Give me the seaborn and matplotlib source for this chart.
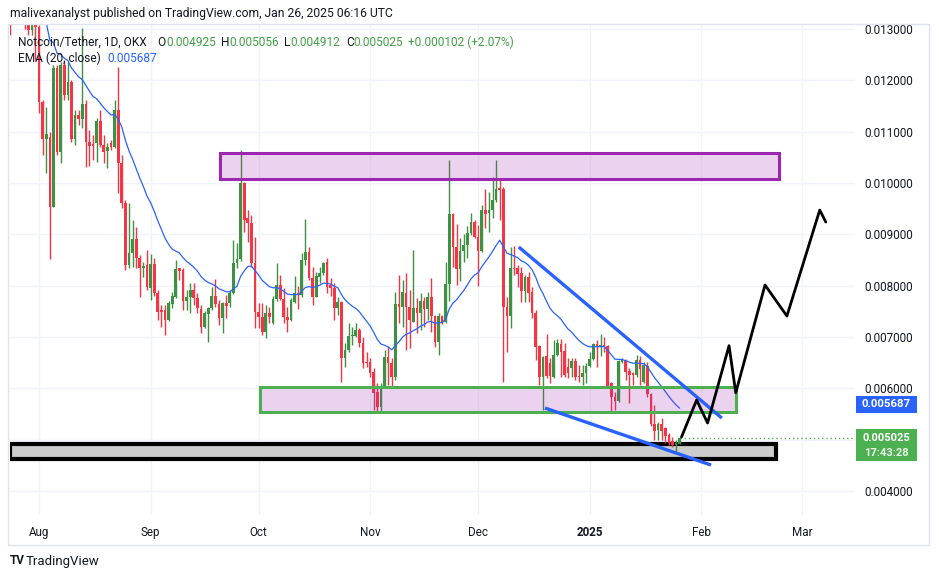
import numpy as np
import pandas as pd
import matplotlib
matplotlib.use("Agg")
import matplotlib.pyplot as plt
import matplotlib.dates as mdates
from matplotlib.patches import Rectangle
import seaborn as sns

# ---------------- data (NOT/USDT daily, OKX) ----------------
END_DATE = "2025-01-26"

opens = [
    # Jul 14 - Jul 31
    .0140, .0145, .0150, .0146, .0143, .0147, .0150, .0145, .0141, .0143, .0139, .0136, .0138, .0135, .0137, .0133, .01298, .01314,
    # Aug
    .01304, .01158, .01086, .01090, .00953, .01224, .01060, .01230, .01171, .01197, .01086, .01132, .01125, .01154, .01080, .01076,
    .01078, .01121, .01074, .01062, .01078, .01070, .01142, .01039, .00961, .00840, .00864, .00891, .00854, .00835, .00840,
    # Sep
    .00795, .00842, .00786, .00753, .00753, .00733, .00764, .00778, .00834, .00830, .00770, .00778, .00792, .00776, .00755,
    .00720, .00745, .00757, .00780, .00764, .00737, .00766, .00766, .00786, .00844, .00852, .01000, .00932, .00922, .00844,
    # Oct
    .00749, .00739, .00710, .00747, .00727, .00774, .00801, .00774, .00739, .00733, .00768, .00786, .00782, .00850, .00866, .00815,
    .00778, .00817, .00825, .00846, .00801, .00795, .00757, .00768, .00659, .00675, .00702, .00702, .00714, .00688, .00651,
    # Nov
    .00651, .00632, .00593, .00564, .00603, .00661, .00649, .00622, .00764, .00758, .00786, .00758, .00729, .00757, .00747,
    .00770, .00755, .00778, .00741, .00690, .00741, .00729, .00803, .00940, .00875, .00832, .00867, .00879, .00902, .00924,
    # Dec
    .00895, .00867, .00947, .00942, .00947, .00967, .00990, .00988, .00758, .00741, .00834, .00834, .00825, .00790, .00817, .00788,
    .00747, .00682, .00622, .00663, .00649, .00622, .00665, .00686, .00673, .00642, .00639, .00653, .00624, .00622, .00630,
    # Jan
    .00643, .00657, .00686, .00680, .00684, .00682, .00610, .00583, .00575, .00652, .00655, .00634, .00630, .00626, .00655, .00612,
    .00643, .00589, .00530, .00519, .00530, .00523, .00509, .00497, .00490, .004925,
]
highs = [
    .0146, .0152, .0153, .0149, .0148, .0152, .0151, .0147, .0145, .0144, .0141, .0140, .0140, .0139, .0139, .0136, .0134, .0134,
    .01308, .01162, .01148, .01100, .01230, .01230, .01236, .01240, .01236, .01201, .01142, .01142, .01302, .01162, .01103, .01094,
    .01127, .01142, .01094, .01078, .01084, .01162, .01226, .01055, .00967, .00961, .00928, .00914, .00860, .00846, .00870,
    .00862, .00854, .00792, .00762, .00762, .00770, .00788, .00850, .00834, .00834, .00792, .00805, .00805, .00786, .00762,
    .00751, .00759, .00797, .00813, .00772, .00768, .00782, .00792, .00889, .00883, .01064, .01002, .00947, .00938, .00895,
    .00766, .00766, .00762, .00759, .00780, .00844, .00821, .00795, .00759, .00776, .00819, .00799, .00864, .00930, .00875, .00837,
    .00827, .00837, .00846, .00854, .00815, .00805, .00778, .00770, .00688, .00727, .00720, .00727, .00718, .00700, .00671,
    .00659, .00640, .00610, .00610, .00675, .00682, .00659, .00788, .00821, .00811, .00825, .00792, .00870, .00776, .00786,
    .00778, .00788, .00815, .00743, .00747, .00743, .00846, .01045, .00942, .00920, .00893, .00901, .00916, .00942, .00928,
    .00918, .00957, .00988, .00982, .01012, .01045, .01010, .00992, .00778, .00875, .00877, .00840, .00837, .00821, .00827, .00797,
    .00753, .00684, .00663, .00706, .00659, .00694, .00696, .00696, .00688, .00659, .00659, .00659, .00645, .00645, .00649,
    .00671, .00688, .00694, .00706, .00700, .00684, .00612, .00593, .00655, .00659, .00657, .00640, .00632, .00665, .00663, .00651,
    .00651, .00591, .00567, .00534, .00542, .00525, .00513, .00505, .00499, .005056,
]
lows = [
    .0138, .0143, .0144, .0141, .0140, .0145, .0144, .0140, .0138, .0137, .01288, .0133, .0133, .0132, .0130, .01288, .01288, .01240,
    .01136, .01055, .01019, .00852, .00953, .01055, .01039, .01162, .01162, .01080, .01074, .01113, .01107, .01031, .01033, .01045,
    .01041, .01070, .01039, .01029, .01064, .01068, .00980, .00952, .00831, .00835, .00837, .00835, .00778, .00817, .00792,
    .00772, .00780, .00733, .00720, .00704, .00731, .00757, .00776, .00811, .00753, .00753, .00747, .00762, .00747, .00708,
    .00718, .00690, .00753, .00759, .00723, .00708, .00737, .00759, .00784, .00835, .00848, .00905, .00885, .00837, .00718,
    .00718, .00704, .00698, .00727, .00725, .00770, .00772, .00727, .00710, .00731, .00766, .00755, .00778, .00840, .00811, .00762,
    .00778, .00805, .00821, .00786, .00780, .00733, .00743, .00612, .00642, .00671, .00684, .00700, .00680, .00639, .00642,
    .00622, .00558, .00554, .00552, .00603, .00606, .00603, .00616, .00727, .00720, .00675, .00678, .00729, .00708, .00714,
    .00720, .00733, .00710, .00680, .00665, .00725, .00727, .00770, .00837, .00801, .00809, .00846, .00854, .00899, .00893,
    .00799, .00866, .00912, .00905, .00932, .00963, .00928, .00612, .00671, .00718, .00821, .00797, .00768, .00768, .00768, .00737,
    .00655, .00606, .00558, .00620, .00610, .00620, .00663, .00622, .00622, .00620, .00622, .00616, .00612, .00606, .00610,
    .00642, .00655, .00642, .00663, .00670, .00603, .00556, .00558, .00573, .00649, .00616, .00571, .00606, .00622, .00606, .00610,
    .00583, .00527, .00499, .00499, .00499, .00493, .00490, .00485, .00474, .004912,
]
closes = [
    .0145, .0150, .0146, .0143, .0147, .0150, .0145, .0141, .0143, .0139, .0136, .0138, .0135, .0137, .0133, .01298, .01314, .01304,
    .01158, .01086, .01095, .00953, .01224, .01060, .01230, .01171, .01197, .01086, .01132, .01125, .01154, .01080, .01072, .01072,
    .01121, .01074, .01060, .01070, .01070, .01142, .01039, .00961, .00840, .00864, .00891, .00854, .00835, .00838, .00797,
    .00842, .00786, .00749, .00749, .00733, .00766, .00780, .00832, .00828, .00770, .00778, .00792, .00776, .00757, .00720,
    .00747, .00757, .00780, .00764, .00737, .00766, .00760, .00786, .00844, .00852, .01000, .00928, .00922, .00844, .00749,
    .00739, .00710, .00747, .00739, .00774, .00801, .00774, .00739, .00733, .00772, .00786, .00782, .00850, .00866, .00815, .00778,
    .00819, .00825, .00844, .00797, .00795, .00757, .00768, .00659, .00675, .00702, .00704, .00714, .00688, .00649, .00649,
    .00630, .00591, .00564, .00603, .00661, .00649, .00622, .00764, .00758, .00788, .00758, .00733, .00757, .00747, .00770,
    .00755, .00778, .00741, .00690, .00741, .00729, .00803, .00940, .00875, .00832, .00867, .00879, .00902, .00924, .00895,
    .00867, .00947, .00940, .00947, .00967, .00988, .00986, .00758, .00741, .00834, .00832, .00823, .00790, .00817, .00786, .00747,
    .00681, .00622, .00661, .00624, .00624, .00665, .00688, .00671, .00626, .00630, .00653, .00622, .00622, .00630, .00643,
    .00657, .00686, .00680, .00684, .00682, .00604, .00583, .00575, .00653, .00655, .00632, .00626, .00626, .00655, .00638, .00645,
    .00589, .00530, .00517, .00530, .00517, .00507, .00494, .00490, .00493, .005025,
]

ema_span = 20
ema_last = 0.005687
change_abs = 0.000102
change_pct = 2.07
countdown = "17:43:28"

price_ticks = [0.004, 0.005, 0.006, 0.007, 0.008, 0.009, 0.010, 0.011, 0.012, 0.013]
hidden_tick_labels = [0.005]   # covered by the last-price label in the reference
month_starts = ["2024-08-01", "2024-09-01", "2024-10-01", "2024-11-01", "2024-12-01", "2025-01-01", "2025-02-01", "2025-03-01"]
month_labels = ["Aug", "Sep", "Oct", "Nov", "Dec", "2025", "Feb", "Mar"]

# analyst drawings
resist_dates = ["2024-09-20 07:00", "2025-02-22 14:00"]
resist_prices = [0.010078, 0.010585]
support_dates = ["2024-10-01 10:00", "2025-02-10 14:00"]
support_prices = [0.005539, 0.006026]
base_dates = ["2024-07-23 20:00", "2025-02-21 17:00"]
base_prices = [0.004624, 0.004916]
upper_tl_dates = ["2024-12-12 07:00", "2025-02-06 17:00"]
upper_tl_prices = [0.008753, 0.005422]
lower_tl_dates = ["2024-12-19 14:00", "2025-02-03 17:00"]
lower_tl_prices = [0.005617, 0.004507]
path_dates = ["2025-01-26 12:00", "2025-01-30 17:00", "2025-02-02 18:00", "2025-02-08 17:00", "2025-02-10 14:00",
              "2025-02-18 17:00", "2025-02-24 19:00", "2025-03-05 22:00", "2025-03-07 14:00"]
path_prices = [0.005052, 0.005773, 0.005325, 0.006831, 0.005915, 0.008013, 0.007409, 0.009474, 0.009240]

# ---------------- style ----------------
sns.set_style("white")
plt.rcParams["font.family"] = ["Roboto", "DejaVu Sans"]

GREEN = "#3e9142"
RED = "#f23645"
BLUE = "#2962ff"
TXT = "#131722"
W, H = 939, 579

fig = plt.figure(figsize=(W / 100, H / 100), dpi=100)
L, R, T, B = 9.5, 855, 24, 515
ax = fig.add_axes([L / W, 1 - B / H, (R - L) / W, (B - T) / H])

def dn(s):
    return mdates.date2num(pd.Timestamp(s))

dates = pd.date_range(end=END_DATE, periods=len(closes), freq="D")
x = mdates.date2num(dates)
o, h, l, c = map(np.array, (opens, highs, lows, closes))

# grid
for p in price_ticks:
    ax.axhline(p, color="#f0f3fa", lw=1, zorder=0)
for m in month_starts:
    ax.axvline(dn(m), color="#f0f3fa", lw=1, zorder=0)

# zones
ax.add_patch(Rectangle((dn(base_dates[0]), base_prices[0]), dn(base_dates[1]) - dn(base_dates[0]),
                       base_prices[1] - base_prices[0], facecolor="#cccccc", edgecolor="black", lw=3, zorder=1))
ax.add_patch(Rectangle((dn(resist_dates[0]), resist_prices[0]), dn(resist_dates[1]) - dn(resist_dates[0]),
                       resist_prices[1] - resist_prices[0], facecolor=(0.61, 0.15, 0.69, 0.2),
                       edgecolor="#9c27b0", lw=2.2, zorder=5))
ax.add_patch(Rectangle((dn(support_dates[0]), support_prices[0]), dn(support_dates[1]) - dn(support_dates[0]),
                       support_prices[1] - support_prices[0], facecolor=(0.61, 0.15, 0.69, 0.2),
                       edgecolor="#4caf50", lw=2.2, zorder=5))

# candles
col = np.where(c >= o, GREEN, RED)
ax.vlines(x, l, h, colors=col, lw=1, zorder=3)
body_b = np.minimum(o, c)
body_h = np.maximum(np.abs(c - o), 0.000015)
ax.bar(x, body_h, bottom=body_b, width=0.74, color=col, linewidth=0, zorder=3)

# EMA 20
ema = pd.Series(closes).ewm(span=ema_span, adjust=False).mean()
sns.lineplot(x=x, y=ema.values, ax=ax, color=BLUE, lw=0.9, zorder=4)

# trend lines
ax.plot([dn(d) for d in upper_tl_dates], upper_tl_prices, color=BLUE, lw=2.4, zorder=6, solid_capstyle="butt")
ax.plot([dn(d) for d in lower_tl_dates], lower_tl_prices, color=BLUE, lw=2.4, zorder=6, solid_capstyle="butt")

# projected path
sns.lineplot(x=[dn(d) for d in path_dates], y=path_prices, ax=ax, color="black", lw=2, sort=False, zorder=7)

# last price dotted line
xlim_l = dn("2024-07-23 19:00")
xlim_r = dn("2025-03-15 17:00")
ax.hlines(c[-1], x[-1], xlim_r, colors="#4caf50", linestyles=(0, (1, 2)), lw=1, zorder=2)

ax.set_xlim(xlim_l, xlim_r)
ax.set_ylim(0.0035335, 0.0130975)
ax.set_yticks(price_ticks)
ax.set_yticklabels(["" if p in hidden_tick_labels else f"{p:.6f}" for p in price_ticks])
ax.yaxis.tick_right()
ax.set_xticks([dn(m) for m in month_starts])
ax.set_xticklabels(month_labels)
for lbl in ax.get_xticklabels():
    if lbl.get_text() == "2025":
        lbl.set_fontweight("bold")
ax.tick_params(axis="y", length=0, pad=6.5, labelsize=8.4, labelcolor=TXT)
ax.tick_params(axis="x", length=0, pad=8, labelsize=8.4, labelcolor=TXT)
for s in ax.spines.values():
    s.set_visible(False)
ax.set_xlabel("")
ax.set_ylabel("")
legend = ax.get_legend()
if legend:
    legend.remove()

# ---------------- overlay texts ----------------
def ft(px, py, s, **kw):
    kw.setdefault("va", "center")
    kw.setdefault("ha", "left")
    fig.text(px / W, 1 - py / H, s, **kw)

# outer frame
fig.add_artist(Rectangle((8 / W, 1 - 545 / H), (929 - 8) / W, (545 - 24) / H, transform=fig.transFigure,
                         fill=False, edgecolor="#e0e3eb", lw=1))

ft(10, 14, "malivexanalyst published on TradingView.com, Jan 26, 2025 06:16 UTC", fontsize=8.7, color=TXT)
LG = "#43a047"
FS = 8.6
ft(18, 42, "Notcoin/Tether, 1D, OKX", fontsize=FS, color=TXT)
ft(157, 42, "O", fontsize=FS, color=TXT)
ft(166, 42, f"{opens[-1]:.6f}", fontsize=FS, color=LG)
ft(221, 42, "H", fontsize=FS, color=TXT)
ft(229, 42, f"{highs[-1]:.6f}", fontsize=FS, color=LG)
ft(284, 42, "L", fontsize=FS, color=TXT)
ft(290, 42, f"{lows[-1]:.6f}", fontsize=FS, color=LG)
ft(346, 42, "C", fontsize=FS, color=TXT)
ft(353, 42, f"{closes[-1]:.6f}", fontsize=FS, color=LG)
ft(408, 42, f"+{change_abs:.6f} (+{change_pct:.2f}%)", fontsize=FS, color=LG)
ft(18, 58, "EMA (20, close)", fontsize=FS, color=TXT)
ft(107, 58, f"{ema_last:.6f}", fontsize=FS, color=BLUE)

# price-scale labels
ema_y = 29 + (0.013 - ema_last) * 51330
fig.add_artist(Rectangle((856 / W, 1 - (ema_y + 8.5) / H), 61 / W, 17 / H, transform=fig.transFigure,
                         facecolor=BLUE, edgecolor="none"))
ft(886.5, ema_y, f"{ema_last:.6f}", fontsize=8.2, color="white", ha="center", fontweight="bold")
last_y = 29 + (0.013 - closes[-1]) * 51330
fig.add_artist(Rectangle((856 / W, 1 - (last_y + 23) / H), 61 / W, 32 / H, transform=fig.transFigure,
                         facecolor="#4caf50", edgecolor="none"))
ft(886.5, last_y - 0.5, f"{closes[-1]:.6f}", fontsize=8.0, color="white", ha="center", fontweight="bold")
ft(886.5, last_y + 14.5, countdown, fontsize=8.0, color="#e8f5e9", ha="center", fontweight="bold")

# logo
ft(10, 561, "TV", fontsize=8.5, color=TXT, fontweight="bold")
ft(26, 561, "TradingView", fontsize=9.5, color=TXT)

fig.savefig("out.png", dpi=100)
